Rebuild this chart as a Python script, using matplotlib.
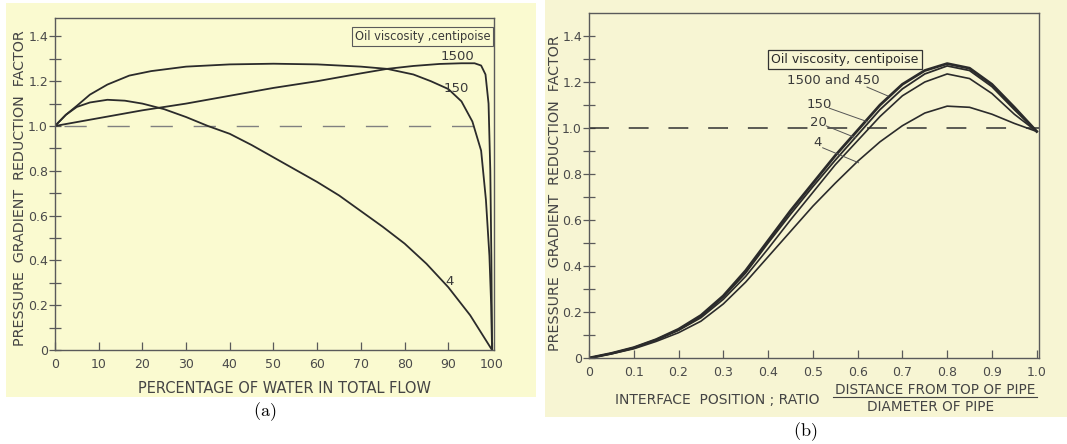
import matplotlib
matplotlib.use("Agg")
import matplotlib.pyplot as plt
from matplotlib.patches import Rectangle

plt.rcParams['mathtext.fontset'] = 'cm'

# ---- panel (a): reduction factor vs percentage of water ----
a_x_4 = [0, 2.5, 5, 8, 12, 16, 20, 25, 30, 35, 40, 45, 50, 55, 60, 65, 70, 75, 80, 85, 90, 95, 100]
a_y_4 = [1.0, 1.05, 1.085, 1.105, 1.117, 1.113, 1.10, 1.075, 1.04, 1.0, 0.965, 0.915, 0.86, 0.805,
         0.75, 0.69, 0.62, 0.55, 0.475, 0.385, 0.28, 0.155, 0.0]
a_x_150 = [0, 2.5, 5, 8, 12, 17, 22, 30, 40, 50, 60, 70, 76, 82, 86, 90, 93, 95.5, 97.5, 98.6, 99.4, 99.8, 100]
a_y_150 = [1.0, 1.05, 1.09, 1.14, 1.185, 1.225, 1.245, 1.265, 1.275, 1.278, 1.275, 1.265, 1.255, 1.23,
           1.2, 1.165, 1.11, 1.02, 0.89, 0.67, 0.42, 0.2, 0.0]
a_x_1500 = [0, 10, 20, 30, 40, 50, 60, 70, 76, 82, 88, 93, 96, 97.5, 98.5, 99.2, 99.6, 99.85, 100]
a_y_1500 = [1.0, 1.035, 1.07, 1.10, 1.135, 1.17, 1.20, 1.235, 1.255, 1.268, 1.277, 1.28, 1.28, 1.27,
            1.23, 1.1, 0.8, 0.4, 0.0]
a_xticks = [0, 10, 20, 30, 40, 50, 60, 70, 80, 90, 100]

# ---- panel (b): reduction factor vs interface position ----
b_x = [0, 0.05, 0.1, 0.15, 0.2, 0.25, 0.3, 0.35, 0.4, 0.45, 0.5, 0.55, 0.6, 0.65, 0.7, 0.75, 0.8, 0.85, 0.9, 0.95, 1.0]
b_y_1500 = [0, 0.02, 0.045, 0.08, 0.125, 0.185, 0.27, 0.38, 0.51, 0.64, 0.76, 0.88, 0.99, 1.10, 1.19, 1.25,
            1.28, 1.26, 1.19, 1.09, 0.985]
b_y_150 = [0, 0.02, 0.045, 0.08, 0.123, 0.18, 0.265, 0.37, 0.50, 0.625, 0.745, 0.86, 0.97, 1.08, 1.17, 1.235,
           1.27, 1.25, 1.18, 1.08, 0.985]
b_y_20 = [0, 0.02, 0.044, 0.078, 0.12, 0.175, 0.255, 0.355, 0.475, 0.6, 0.72, 0.84, 0.945, 1.05, 1.14, 1.2,
          1.235, 1.215, 1.15, 1.06, 0.985]
b_y_4 = [0, 0.018, 0.04, 0.072, 0.11, 0.16, 0.235, 0.33, 0.44, 0.55, 0.66, 0.76, 0.855, 0.94, 1.01, 1.065,
         1.095, 1.09, 1.06, 1.02, 0.985]
b_xticks = [0, 0.1, 0.2, 0.3, 0.4, 0.5, 0.6, 0.7, 0.8, 0.9, 1.0]
b_xticklabels = ['0', '0.1', '0.2', '0.3', '0.4', '0.5', '0.6', '0.7', '0.8', '0.9', '1.0']

yticks = [0, 0.2, 0.4, 0.6, 0.8, 1.0, 1.2, 1.4]
yticklabels = ['0', '0.2', '0.4', '0.6', '0.8', '1.0', '1.2', '1.4']

INK = '#2b2b2b'
GREY = '#5a5a5a'

fig = plt.figure(figsize=(10.67, 4.44), dpi=100, facecolor='white')

# scanned-paper backgrounds (behind the axes)
fig.patches.append(Rectangle((0.0056, 0.106), 0.4967, 0.887, transform=fig.transFigure,
                             facecolor='#fafad0', edgecolor='none', zorder=-5))
fig.patches.append(Rectangle((0.5108, 0.061), 0.4892, 0.939, transform=fig.transFigure,
                             facecolor='#f7f5d3', edgecolor='none', zorder=-5))


def style_axes(ax):
    ax.set_facecolor('none')
    for s in ax.spines.values():
        s.set_color(GREY)
        s.set_linewidth(1.0)
    ax.set_yticks(yticks)
    ax.set_yticklabels(yticklabels)
    ax.set_yticks([0.1, 0.3, 0.5, 0.7, 0.9, 1.1, 1.3], minor=True)
    ax.tick_params(axis='y', which='both', direction='inout', length=8, width=0.9,
                   color=GREY, labelcolor='#4a4a4a', labelsize=9, pad=1)
    ax.tick_params(axis='x', which='major', direction='in', length=6, width=0.9,
                   color=GREY, labelcolor='#4a4a4a', labelsize=9, pad=6)


# ---------------- (a) ----------------
ax1 = fig.add_axes([0.0515, 0.2117, 0.4117, 0.7467])
style_axes(ax1)
ax1.set_xlim(0, 100.5)
ax1.set_ylim(0, 1.48)
ax1.set_xticks(a_xticks)
ax1.axhline(1.0, xmin=0.02, color='#808080', lw=1.0, dashes=(16, 15))
ax1.plot(a_x_4, a_y_4, color=INK, lw=1.3)
ax1.plot(a_x_150, a_y_150, color=INK, lw=1.3)
ax1.plot(a_x_1500, a_y_1500, color=INK, lw=1.3)
ax1.text(84.1, 1.398, 'Oil viscosity ,centipoise', fontsize=8.3, color='#3a3a3a', ha='center', va='center',
         bbox=dict(boxstyle='square,pad=0.25', facecolor='none', edgecolor=GREY, lw=0.8))
ax1.text(92.1, 1.31, '1500', fontsize=9.5, color='#3a3a3a', ha='center', va='center')
ax1.text(91.7, 1.168, '150', fontsize=9.5, color='#3a3a3a', ha='center', va='center')
ax1.text(90.2, 0.307, '4', fontsize=9.5, color='#3a3a3a', ha='center', va='center')

fig.text(0.0187, 0.577, 'PRESSURE  GRADIENT  REDUCTION  FACTOR', rotation=90, fontsize=10.3,
         color='#444444', ha='center', va='center')
fig.text(0.267, 0.126, 'PERCENTAGE OF WATER IN TOTAL FLOW', fontsize=10.5, color='#444444',
         ha='center', va='center')
fig.text(0.248, 0.072, r'$\mathrm{(a)}$', fontsize=13, ha='center', va='center')

# ---------------- (b) ----------------
ax2 = fig.add_axes([0.552, 0.1937, 0.4217, 0.7770])
style_axes(ax2)
ax2.set_xlim(0, 1.005)
ax2.set_ylim(0, 1.5)
ax2.set_xticks(b_xticks)
ax2.set_xticklabels(b_xticklabels)
ax2.axhline(1.0, color='#303030', lw=1.1, dashes=(13, 13))
ax2.plot(b_x, b_y_4, color=INK, lw=1.2)
ax2.plot(b_x, b_y_20, color=INK, lw=1.2)
ax2.plot(b_x, b_y_150, color=INK, lw=1.3)
ax2.plot(b_x, b_y_1500, color=INK, lw=2.0)

ax2.text(0.572, 1.299, 'Oil viscosity, centipoise', fontsize=9, color='#2a2a2a', ha='center', va='center',
         bbox=dict(boxstyle='square,pad=0.25', facecolor='none', edgecolor='#333333', lw=0.9))
# labels with leader lines
b_labels = ['1500 and 450', '150', '20', '4']
b_label_xy = [(0.545, 1.205), (0.514, 1.103), (0.513, 1.023), (0.51, 0.936)]
b_leader_start = [(0.621, 1.178), (0.537, 1.086), (0.53, 1.009), (0.522, 0.914)]
b_leader_end = [(0.668, 1.139), (0.621, 1.028), (0.595, 0.958), (0.602, 0.849)]
for lab, (tx, ty), (sx, sy), (ex, ey) in zip(b_labels, b_label_xy, b_leader_start, b_leader_end):
    ax2.text(tx, ty, lab, fontsize=9.5, color='#3a3a3a', ha='center', va='center')
    ax2.plot([sx, ex], [sy, ey], color='#555555', lw=0.7)

fig.text(0.5205, 0.566, 'PRESSURE  GRADIENT  REDUCTION  FACTOR', rotation=90, fontsize=10.3,
         color='#444444', ha='center', va='center')
fig.text(0.672, 0.100, 'INTERFACE  POSITION ; RATIO', fontsize=10, color='#444444',
         ha='center', va='center')
fig.text(0.876, 0.121, 'DISTANCE FROM TOP OF PIPE', fontsize=9.8, color='#444444',
         ha='center', va='center')
fig.add_artist(plt.Line2D([0.781, 0.972], [0.106, 0.106], color='#444444', lw=0.8))
fig.text(0.872, 0.083, 'DIAMETER OF PIPE', fontsize=9.8, color='#444444',
         ha='center', va='center')
fig.text(0.755, 0.027, r'$\mathrm{(b)}$', fontsize=13, ha='center', va='center')

fig.savefig('out.png', dpi=100, facecolor='white')
